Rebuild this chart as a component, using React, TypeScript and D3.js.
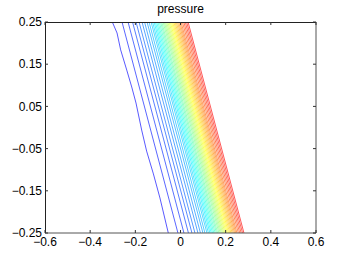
import React from 'react';
import * as d3 from 'd3';

const W = 349;
const H = 262;
const PLOT = { left: 45, top: 22, right: 316, bottom: 233 };

const title = 'pressure';
const xTicks = [-0.6, -0.4, -0.2, 0, 0.2, 0.4, 0.6];
const yTicks = [-0.25, -0.15, -0.05, 0.05, 0.15, 0.25];
const xDomain: [number, number] = [-0.6, 0.6];
const yDomain: [number, number] = [-0.25, 0.25];

// contour lines: x position where each pressure contour crosses y = 0
const contourX0 = [
  -0.1749, -0.1351, -0.1085, -0.0886, -0.0731, -0.0598, -0.0465, -0.0354,
  -0.0244, -0.0155, -0.0066, 0.0, 0.0066, 0.0124, 0.0182, 0.0239, 0.0297,
  0.0354, 0.0407, 0.0465, 0.0518, 0.0571, 0.0624, 0.0677, 0.0731, 0.0784,
  0.0837, 0.089, 0.0943, 0.0996, 0.1049, 0.1103, 0.1156, 0.1209, 0.1262,
  0.1324, 0.1386, 0.1448, 0.151, 0.1572,
];
// x shift per unit of y along each contour
const contourSlope = -0.495;
// the lowest contour is slightly irregular
const firstContourX = [-0.302, -0.281, -0.265, -0.238, -0.216, -0.197, -0.172, -0.15, -0.12, -0.091, -0.054];
const firstContourY = [0.25, 0.224, 0.184, 0.136, 0.096, 0.058, -0.006, -0.056, -0.11, -0.167, -0.25];

function jet(t: number): string {
  const c = (v: number) => Math.round(255 * Math.max(0, Math.min(1, v)));
  const r = c(1.5 - Math.abs(4 * t - 3));
  const g = c(1.5 - Math.abs(4 * t - 2));
  const b = c(1.5 - Math.abs(4 * t - 1));
  return `rgb(${r},${g},${b})`;
}

export default function App() {
  const x = d3.scaleLinear().domain(xDomain).range([PLOT.left, PLOT.right]);
  const y = d3.scaleLinear().domain(yDomain).range([PLOT.bottom, PLOT.top]);
  const line = d3
    .line<[number, number]>()
    .x((d) => x(d[0]))
    .y((d) => y(d[1]));
  const color = d3
    .scaleLinear()
    .domain([0, contourX0.length - 1])
    .range([0.125, 0.875]);

  const xFmt = (d: number) => (d === 0 ? '0' : d3.format('.1f')(d));
  const yFmt = d3.format('.2f');
  const font = 'Liberation Sans, Arial, Helvetica, sans-serif';

  const paths = contourX0.map((x0, i) => {
    let pts: [number, number][];
    if (i === 0) {
      pts = firstContourX.map((v, k) => [v, firstContourY[k]] as [number, number]);
    } else {
      pts = [
        [x0 + contourSlope * yDomain[1], yDomain[1]],
        [x0 + contourSlope * yDomain[0], yDomain[0]],
      ];
    }
    return { d: line(pts) || '', c: jet(color(i)) };
  });

  const tl = 3;
  return (
    <svg
      width={W}
      height={H}
      style={{ position: 'absolute', left: 0, top: 0, background: '#fff' }}
      fontFamily={font}
    >
      <rect x={0} y={0} width={W} height={H} fill="#fff" />
      <defs>
        <clipPath id="plotclip">
          <rect x={PLOT.left} y={PLOT.top} width={PLOT.right - PLOT.left} height={PLOT.bottom - PLOT.top} />
        </clipPath>
      </defs>
      <g clipPath="url(#plotclip)">
        {paths.map((p, i) => (
          <path key={i} d={p.d} fill="none" stroke={p.c} strokeWidth={1} strokeOpacity={0.65} />
        ))}
      </g>
      {/* box */}
      <line x1={PLOT.left + 0.5} x2={PLOT.left + 0.5} y1={PLOT.top} y2={PLOT.bottom} stroke="#222" />
      <line x1={PLOT.left} x2={PLOT.right} y1={PLOT.top + 0.5} y2={PLOT.top + 0.5} stroke="#222" />
      <line x1={PLOT.right} x2={PLOT.right} y1={PLOT.top} y2={PLOT.bottom} stroke="#555" />
      <line x1={PLOT.left} x2={PLOT.right} y1={PLOT.bottom} y2={PLOT.bottom} stroke="#555" />
      {xTicks.map((t) => (
        <g key={'x' + t}>
          <line x1={x(t)} x2={x(t)} y1={PLOT.bottom} y2={PLOT.bottom - tl} stroke="#333" />
          <line x1={x(t)} x2={x(t)} y1={PLOT.top} y2={PLOT.top + tl} stroke="#333" />
          <text x={x(t)} y={PLOT.bottom + 13} textAnchor="middle" fontSize={12} fill="#000">
            {xFmt(t)}
          </text>
        </g>
      ))}
      {yTicks.map((t) => (
        <g key={'y' + t}>
          <line x1={PLOT.left} x2={PLOT.left + tl} y1={y(t)} y2={y(t)} stroke="#333" />
          <line x1={PLOT.right} x2={PLOT.right - tl} y1={y(t)} y2={y(t)} stroke="#333" />
          <text x={PLOT.left - 3} y={y(t)} dy="0.35em" textAnchor="end" fontSize={12} fill="#000">
            {yFmt(t)}
          </text>
        </g>
      ))}
      <text x={(PLOT.left + PLOT.right) / 2} y={13} textAnchor="middle" fontSize={12} fill="#000">
        {title}
      </text>
    </svg>
  );
}
